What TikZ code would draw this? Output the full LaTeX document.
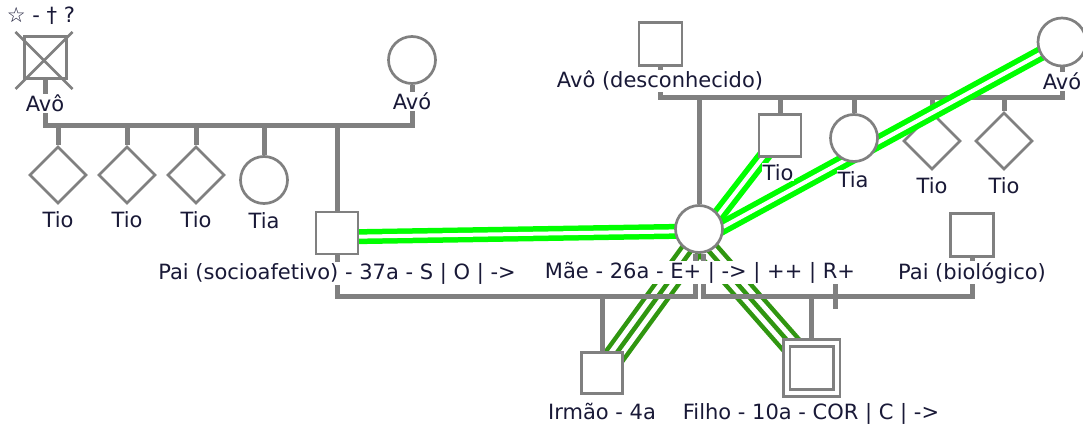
\documentclass[tikz,border=0pt]{standalone}
\usepackage{fontspec}
\setmainfont{DejaVu Sans}
\usetikzlibrary{shapes.geometric,calc}
\definecolor{lineg}{RGB}{128,128,128}
\definecolor{brightg}{RGB}{0,255,0}
\definecolor{darkg}{RGB}{48,150,16}
\definecolor{txt}{RGB}{25,25,55}
\pgfdeclarelayer{lyrA}
\pgfdeclarelayer{lyrB}
\pgfdeclarelayer{lyrC}
\pgfdeclarelayer{lyrD}
\pgfsetlayers{lyrA,lyrB,lyrC,lyrD,main}
\begin{document}
\begin{tikzpicture}[x=1pt,y=-1pt,
  person/.style={draw=lineg, line width=2.7pt, fill=white, inner sep=0pt},
  male/.style={person, rectangle, minimum size=42pt},
  female/.style={person, circle, minimum size=47pt},
  unk/.style={person, diamond, minimum size=57pt},
  lbl/.style={fill=white, inner sep=1pt, anchor=base, text=txt, font=\fontsize{21}{24}\selectfont},
  rel/.style={draw=lineg, line width=5pt},
  fused/.style={draw=brightg, double=white, line width=5.5pt, double distance=4pt},
  tripA/.style={draw=darkg, double=white, line width=4.5pt, double distance=14.5pt},
  tripB/.style={draw=darkg, line width=4.5pt},
]
\useasboundingbox (0,0) rectangle (1083,425);

% ---------- persons ----------
\node[male]   (avoL)  at (45.5,57.5) {};
\node[female] (avoWL) at (412,60) {};
\node[unk]    (tio1)  at (58,175) {};
\node[unk]    (tio2)  at (127,175) {};
\node[unk]    (tio3)  at (196,175) {};
\node[female] (tia1)  at (264,180) {};
\node[male]   (paiS)  at (337,233) {};
\node[female] (mae)   at (699,229) {};
\node[male, minimum size=43pt] (paiB) at (972,235) {};
\node[male, minimum size=41pt] (irmao) at (602,373) {};
\node[male, minimum size=50pt, double=white, double distance=4pt] (filho) at (811.5,368) {};
\node[male, minimum size=43pt] (avoD) at (660.5,44) {};
\node[female, minimum size=48pt] (avoWR) at (1062,42) {};
\node[male]   (tioR)  at (780,135.5) {};
\node[female] (tiaR)  at (854,138) {};
\begin{pgfonlayer}{lyrC}
\node[unk] (tio4) at (932,141) {};
\node[unk] (tio5) at (1004,141) {};
\end{pgfonlayer}

% deceased cross
\draw[lineg, line width=2.7pt] ($(avoL.center)+(-30,-25.5)$) -- ($(avoL.center)+(27,31.5)$);
\draw[lineg, line width=2.7pt] ($(avoL.center)+(27,-25.5)$) -- ($(avoL.center)+(-30,31.5)$);

% ---------- labels ----------
\node[lbl] (lStar) at (41,23) {☆ - † ?};
\node[lbl] (lAvoL) at (45,112) {Avô};
\node[lbl] (lAvoWL) at (412,110) {Avó};
\node[lbl] (lTio1) at (58,227) {Tio};
\node[lbl] (lTio2) at (127,227) {Tio};
\node[lbl] (lTio3) at (196,227) {Tio};
\node[lbl] (lTia1) at (264,228) {Tia};
\node[lbl] (lPaiS) at (337,279) {Pai (socioafetivo) - 37a - S | O | ->};
\node[lbl] (lMae) at (700,278) {Mãe - 26a - E+ | -> | ++ | R+};
\node[lbl] (lPaiB) at (972,279) {Pai (biológico)};
\node[lbl] (lAvoD) at (660,88) {Avô (desconhecido)};
\node[lbl] (lAvoWR) at (1062,90) {Avó};
\node[lbl] (lTioR) at (778,180) {Tio};
\node[lbl] (lTiaR) at (853,187) {Tia};
\node[lbl] (lTio4) at (932,193) {Tio};
\node[lbl] (lTio5) at (1004,193) {Tio};
\node[lbl] (lIrmao) at (602,419) {Irmão - 4a};
\node[lbl] (lFilho) at (811,419) {Filho - 10a - COR | C | ->};

% ---------- helper coordinates ----------
\coordinate (sibL) at (0,125);
\coordinate (sibR) at (0,98);
\coordinate (cpl) at (0,296);
\coordinate (maeL) at ($(mae.south)+(-4,0)$);
\coordinate (maeR) at ($(mae.south)+(4,0)$);
\coordinate (sep) at (835,296);
\coordinate (maeE) at ($(mae.center)+(0,11)$);

% ---------- family lines ----------
\begin{pgfonlayer}{lyrB}
\draw[rel] (avoL.south) -- (avoL.south |- sibL) -- (avoWL.south |- sibL) -- (avoWL.south);
\foreach \c in {tio1,tio2,tio3,tia1,paiS} \draw[rel] (\c.north) -- (\c.north |- sibL);
\draw[rel] (avoD.south) -- (avoD.south |- sibR) -- (avoWR.south |- sibR) -- (avoWR.south);
\foreach \c in {mae,tioR,tiaR,tio4,tio5} \draw[rel] (\c.north) -- (\c.north |- sibR);
\draw[rel] (paiS.south) -- (paiS.south |- cpl) -- (maeL |- cpl) -- (maeL);
\draw[rel] (maeR) -- (maeR |- cpl) -- (paiB.south |- cpl) -- (paiB.south);
\draw[rel] ($(sep)+(0,-13)$) -- ($(sep)+(0,13)$);
\draw[rel] (irmao.north) -- (irmao.north |- cpl);
\draw[rel] (filho.north) -- (filho.north |- cpl);
\end{pgfonlayer}

% ---------- emotional lines ----------
\begin{pgfonlayer}{lyrA}
\draw[tripA] (maeE) -- (irmao.center);
\draw[tripB] (maeE) -- (irmao.center);
\draw[tripA] (maeE) -- (filho.center);
\draw[tripB] (maeE) -- (filho.center);
\end{pgfonlayer}
\begin{pgfonlayer}{lyrD}
\draw[fused] ($(paiS.center)+(0,4)$) -- ($(mae.center)+(0,2)$);
\draw[fused] (maeE) -- (tioR.center);
\draw[fused] (maeE) -- (avoWR.center);
\end{pgfonlayer}
\end{tikzpicture}
\end{document}
